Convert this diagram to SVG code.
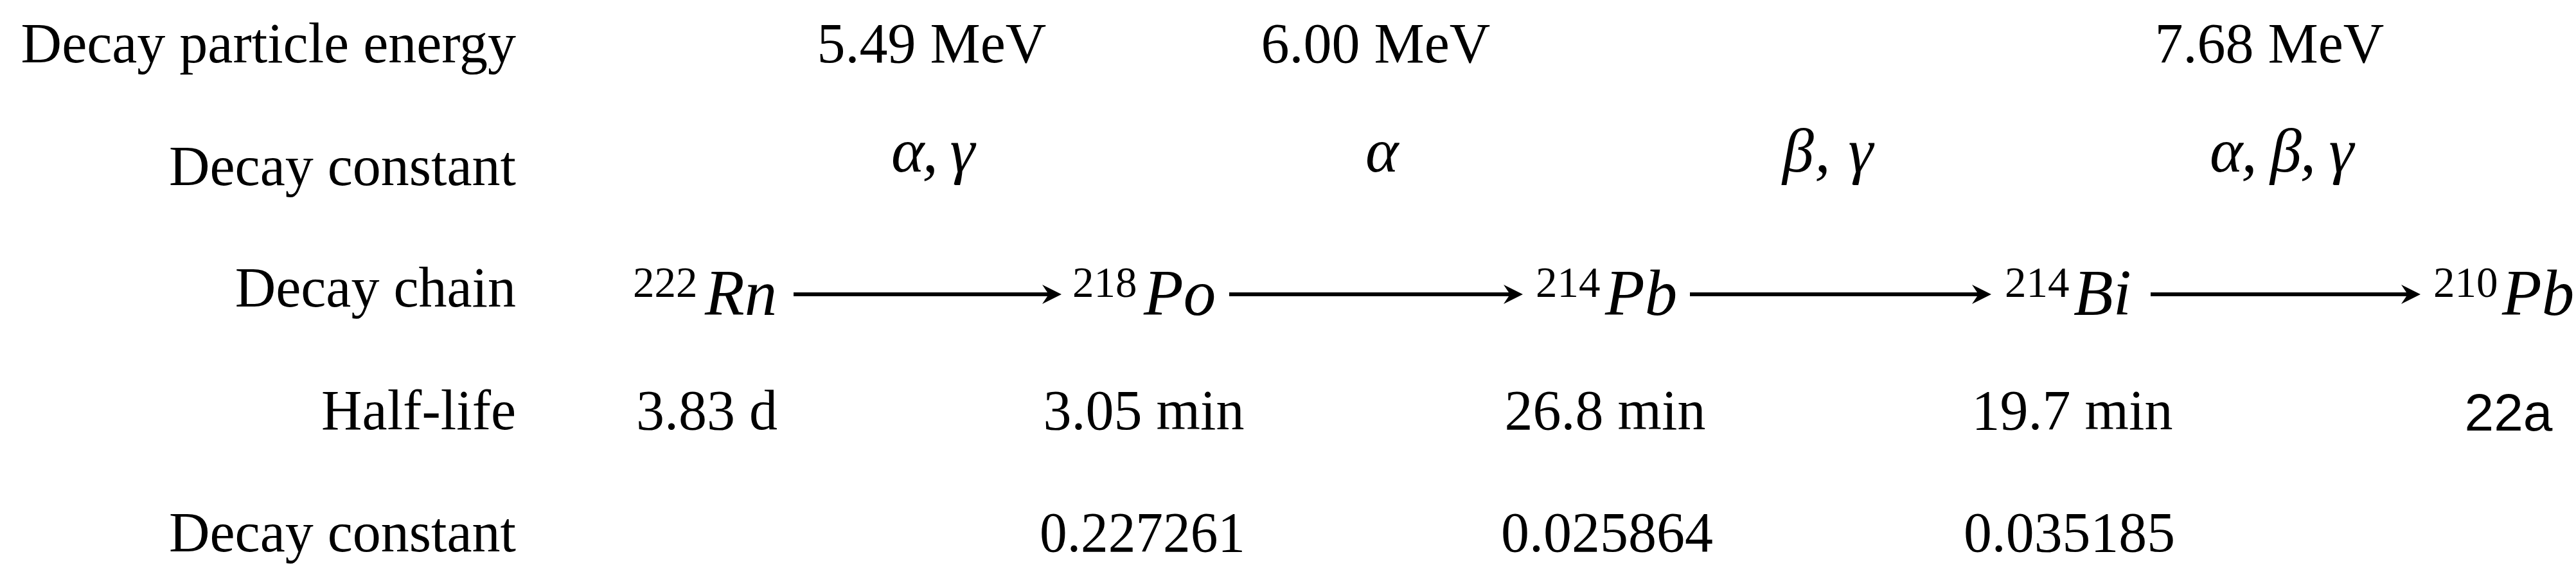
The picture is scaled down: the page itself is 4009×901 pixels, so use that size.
<svg xmlns="http://www.w3.org/2000/svg" width="4009" height="901" viewBox="0 0 4009 901">
<style>
.t{font-family:"Liberation Serif","Times New Roman",serif;font-size:88px;fill:#000}
.lbl{text-anchor:end}
.mid{text-anchor:middle}
.gr{font-family:"Liberation Serif","Times New Roman",serif;font-style:italic;font-size:98px;fill:#000}
.sup{font-family:"Liberation Serif","Times New Roman",serif;font-size:67px;fill:#000}
.el{font-family:"Liberation Serif","Times New Roman",serif;font-style:italic;font-size:101px;fill:#000}
.sans{font-family:"Liberation Sans",Arial,sans-serif;font-size:82px;fill:#000;text-anchor:middle}
.arr{stroke:#000;stroke-width:6;fill:none;marker-end:url(#ah)}
</style>
<defs>
<marker id="ah" markerUnits="userSpaceOnUse" viewBox="-20 -17 34 34" refX="0" refY="0" markerWidth="34" markerHeight="34" orient="auto">
<path d="M12,0 L-18,-15 L-8,0 L-18,15 Z" fill="#000"/>
</marker>
</defs>
<rect width="4009" height="901" fill="#fff"/>

<g id="row-labels">
<text class="t lbl" x="803" y="97">Decay particle energy</text>
<text class="t lbl" x="803" y="288">Decay constant</text>
<text class="t lbl" x="803" y="477">Decay chain</text>
<text class="t lbl" x="803" y="668">Half-life</text>
<text class="t lbl" x="803" y="858">Decay constant</text>
</g>

<g id="energies">
<text class="t mid" x="1450" y="97">5.49 MeV</text>
<text class="t mid" x="2141" y="97">6.00 MeV</text>
<text class="t mid" x="3532" y="97">7.68 MeV</text>
</g>

<g id="decay-modes">
<text class="gr" x="1387" y="267" textLength="130" lengthAdjust="spacing">α, γ</text>
<text class="gr" x="2125" y="267">α</text>
<text class="gr" x="2774" y="267" textLength="141" lengthAdjust="spacing">β, γ</text>
<text class="gr" x="3439" y="267" textLength="224" lengthAdjust="spacing">α, β, γ</text>
</g>

<g id="Rn222">
<text class="sup" x="985" y="462">222</text>
<text class="el" x="1097" y="490">Rn</text>
</g>
<g id="Po218">
<text class="sup" x="1669" y="462">218</text>
<text class="el" x="1780" y="490">Po</text>
</g>
<g id="Pb214">
<text class="sup" x="2390" y="462">214</text>
<text class="el" x="2498" y="490">Pb</text>
</g>
<g id="Bi214">
<text class="sup" x="3120" y="462">214</text>
<text class="el" x="3227" y="490">Bi</text>
</g>
<g id="Pb210">
<text class="sup" x="3787" y="462">210</text>
<text class="el" x="3894" y="490">Pb</text>
</g>

<g id="connectors">
<line class="arr" x1="1235" y1="458" x2="1640" y2="458"/>
<line class="arr" x1="1913" y1="458" x2="2358" y2="458"/>
<line class="arr" x1="2630" y1="458" x2="3087" y2="458"/>
<line class="arr" x1="3347" y1="458" x2="3755" y2="458"/>
</g>

<g id="half-lives">
<text class="t mid" x="1100" y="668">3.83 d</text>
<text class="t mid" x="1780" y="668">3.05 min</text>
<text class="t mid" x="2498" y="668">26.8 min</text>
<text class="t mid" x="3225" y="668">19.7 min</text>
<text class="sans" x="3904" y="670">22a</text>
</g>

<g id="decay-constants">
<text class="t" x="1618" y="858" textLength="320" lengthAdjust="spacingAndGlyphs">0.227261</text>
<text class="t" x="2336" y="858" textLength="330" lengthAdjust="spacingAndGlyphs">0.025864</text>
<text class="t" x="3056" y="858" textLength="329" lengthAdjust="spacingAndGlyphs">0.035185</text>
</g>
</svg>
